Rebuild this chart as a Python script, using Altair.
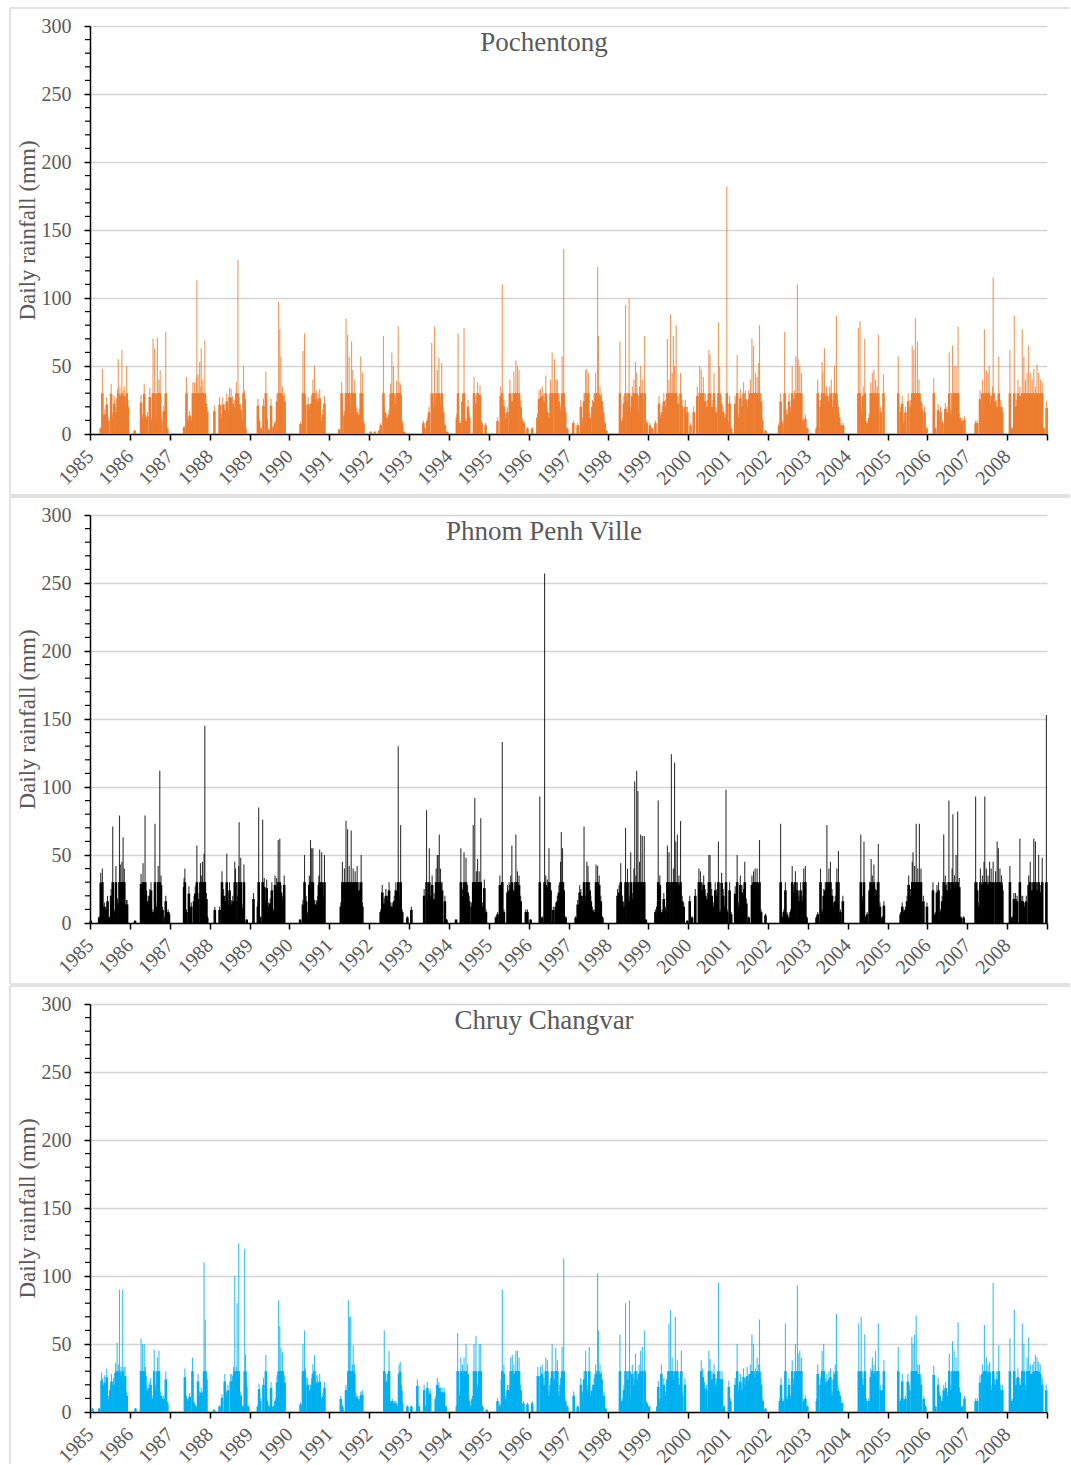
import altair as alt
import pandas as pd

FONT = "Liberation Serif"
GREY = "#595959"
W, H = 957, 408

# Daily rainfall peaks: {year: [[fraction of year, mm], ...]}
pochentong = {
    1985: [[.27,5],[.31,48],[.34,14],[.37,18],[.42,27],[.46,12],[.53,37],[.57,16],[.61,28],[.65,20],[.69,33],[.71,55],[.75,35],[.80,62],[.83,32],[.86,35],[.90,26],[.92,50],[.95,25]],
    1986: [[.12,3],[.28,29],[.31,14],[.36,37],[.39,14],[.44,16],[.50,34],[.54,12],[.58,70],[.62,63],[.65,14],[.69,71],[.73,40],[.76,47],[.79,12],[.85,21],[.88,8],[.90,75],[.94,5]],
    1987: [[.36,6],[.42,42],[.46,12],[.50,17],[.54,12],[.58,38],[.62,38],[.67,42],[.68,113],[.71,44],[.75,53],[.78,35],[.79,63],[.83,40],[.88,69],[.90,28],[.94,20]],
    1988: [[.12,21],[.25,27],[.29,15],[.33,27],[.38,22],[.43,30],[.46,20],[.50,34],[.54,33],[.58,28],[.63,25],[.67,38],[.71,128],[.74,27],[.78,22],[.81,12],[.85,50],[.88,32],[.90,5]],
    1989: [[.21,26],[.24,12],[.29,5],[.35,26],[.41,46],[.43,14],[.48,4],[.54,26],[.60,6],[.64,10],[.69,30],[.73,97],[.76,77],[.79,57],[.83,35],[.88,30]],
    1990: [[.28,9],[.34,61],[.38,74],[.40,27],[.47,27],[.51,22],[.55,28],[.59,40],[.63,50],[.68,32],[.72,30],[.76,33],[.80,12],[.84,18],[.88,28]],
    1991: [[.25,4],[.31,38],[.38,17],[.42,85],[.46,73],[.50,57],[.53,20],[.56,68],[.59,47],[.64,40],[.69,20],[.75,18],[.79,57],[.83,45],[.86,10]],
    1992: [[.04,2],[.14,2],[.25,3],[.29,8],[.36,72],[.39,20],[.43,15],[.46,12],[.50,18],[.54,37],[.57,60],[.61,50],[.64,28],[.69,39],[.73,79],[.77,38],[.79,36],[.83,10],[.88,2]],
    1993: [[.36,10],[.39,5],[.46,12],[.50,20],[.57,67],[.60,24],[.64,79],[.68,25],[.71,47],[.75,56],[.78,27],[.82,52],[.86,20],[.90,8],[.96,2]],
    1994: [[.20,15],[.23,74],[.28,10],[.34,30],[.38,78],[.43,12],[.48,25],[.51,15],[.63,42],[.68,28],[.72,38],[.74,30],[.78,36],[.82,10],[.92,8]],
    1995: [[.22,12],[.30,35],[.34,110],[.38,25],[.43,15],[.47,20],[.53,40],[.58,30],[.63,46],[.68,54],[.72,50],[.76,47],[.80,25],[.84,12],[.88,10],[.97,5]],
    1996: [[.09,5],[.22,15],[.26,32],[.30,33],[.34,35],[.38,30],[.43,43],[.47,20],[.51,15],[.55,40],[.59,60],[.65,55],[.69,40],[.72,40],[.76,30],[.80,20],[.84,57],[.88,136],[.92,20],[.97,5]],
    1997: [[.12,10],[.23,8],[.31,25],[.35,12],[.39,30],[.43,47],[.46,48],[.50,45],[.54,15],[.60,25],[.64,30],[.68,45],[.73,123],[.75,72],[.79,35],[.83,30],[.87,20],[.91,10],[.95,3]],
    1998: [[.29,68],[.35,12],[.39,28],[.43,95],[.48,30],[.52,100],[.56,20],[.60,35],[.64,40],[.68,53],[.71,45],[.74,20],[.78,35],[.81,50],[.85,40],[.91,72],[.96,10],[1.04,8]],
    1999: [[.10,5],[.18,10],[.27,28],[.31,14],[.35,20],[.39,30],[.43,25],[.48,70],[.52,40],[.56,88],[.60,45],[.63,72],[.66,50],[.70,80],[.75,28],[.81,45],[.85,25],[.93,25],[.98,20]],
    2000: [[.06,8],[.14,20],[.23,35],[.29,50],[.33,47],[.38,42],[.43,30],[.48,25],[.52,62],[.55,58],[.60,25],[.65,45],[.70,20],[.76,82],[.79,50],[.83,28],[.88,20],[.93,15],[.97,182],[.99,10]],
    2001: [[.04,28],[.08,5],[.18,28],[.23,58],[.27,15],[.31,33],[.35,25],[.39,38],[.44,32],[.48,25],[.52,32],[.56,40],[.60,70],[.64,65],[.69,45],[.73,42],[.77,52],[.79,80],[.83,30],[.86,12],[.94,3]],
    2002: [[.28,8],[.32,30],[.36,10],[.42,75],[.47,18],[.53,30],[.57,20],[.61,50],[.66,32],[.70,57],[.74,110],[.76,55],[.80,50],[.84,45],[.89,12],[.94,14],[.99,5]],
    2003: [[.22,5],[.25,40],[.32,25],[.36,53],[.38,45],[.42,63],[.47,35],[.50,30],[.55,35],[.59,40],[.64,25],[.67,50],[.72,87],[.75,25],[.79,15],[.84,8],[.89,8]],
    2004: [[.27,78],[.31,83],[.34,20],[.39,35],[.43,70],[.48,10],[.54,15],[.58,38],[.62,45],[.66,47],[.70,40],[.74,35],[.77,73],[.83,20],[.90,44]],
    2005: [[.27,57],[.33,20],[.37,28],[.41,10],[.45,20],[.52,30],[.58,25],[.62,65],[.66,62],[.70,85],[.75,68],[.79,40],[.83,30],[.87,22],[.93,20],[.98,5]],
    2006: [[.16,41],[.20,5],[.27,22],[.33,20],[.38,10],[.45,23],[.49,20],[.55,60],[.59,18],[.63,65],[.67,50],[.72,50],[.77,79],[.81,15],[.87,12],[.93,13]],
    2007: [[.21,10],[.25,10],[.32,32],[.38,40],[.43,77],[.48,47],[.52,45],[.55,50],[.59,28],[.63,35],[.65,115],[.69,30],[.74,25],[.79,57],[.84,25],[.88,20]],
    2008: [[.07,62],[.13,5],[.18,87],[.23,25],[.27,40],[.32,35],[.38,77],[.42,57],[.46,40],[.50,45],[.54,65],[.58,45],[.63,40],[.67,48],[.71,35],[.75,51],[.79,45],[.84,40],[.88,38],[.92,5],[.99,24]],
}

phnom_penh = {
    1985: [[.02,2],[.23,5],[.27,37],[.31,40],[.36,15],[.40,12],[.44,20],[.48,5],[.53,25],[.57,71],[.61,10],[.65,42],[.69,18],[.74,79],[.76,43],[.80,45],[.83,63],[.86,40],[.91,17],[.93,17]],
    1986: [[.13,2],[.28,36],[.33,44],[.38,79],[.40,30],[.46,20],[.50,25],[.53,30],[.58,10],[.63,73],[.65,15],[.71,42],[.75,112],[.78,35],[.82,12],[.88,5],[.90,20],[.96,10],[.98,8]],
    1987: [[.36,33],[.38,40],[.42,10],[.48,27],[.54,15],[.61,20],[.64,27],[.68,57],[.71,22],[.77,44],[.79,35],[.82,45],[.86,51],[.88,145],[.92,22],[.94,5]],
    1988: [[.13,12],[.25,12],[.31,38],[.35,25],[.39,20],[.43,51],[.46,17],[.50,30],[.54,17],[.58,20],[.63,45],[.65,40],[.70,20],[.73,42],[.74,74],[.78,48],[.81,14],[.86,43],[.93,3]],
    1989: [[.10,22],[.21,15],[.23,85],[.27,5],[.33,76],[.37,33],[.39,18],[.43,32],[.48,15],[.52,18],[.56,30],[.60,10],[.64,35],[.68,33],[.72,61],[.76,62],[.79,28],[.83,20],[.87,35]],
    1990: [[.27,3],[.34,17],[.38,50],[.42,20],[.46,8],[.50,35],[.53,61],[.56,55],[.59,55],[.63,17],[.67,17],[.71,20],[.74,35],[.76,54],[.79,10],[.81,52],[.85,20],[.88,50]],
    1991: [[.29,15],[.33,45],[.38,40],[.42,75],[.46,69],[.50,42],[.55,68],[.60,40],[.65,38],[.70,42],[.75,30],[.80,50],[.83,15]],
    1992: [[.29,10],[.33,28],[.38,18],[.42,25],[.46,20],[.50,30],[.54,15],[.58,15],[.63,20],[.67,30],[.71,22],[.73,130],[.77,20],[.79,72],[.83,10],[.96,5]],
    1993: [[.06,12],[.38,25],[.44,83],[.48,20],[.51,55],[.54,20],[.58,35],[.63,22],[.68,40],[.71,50],[.73,50],[.76,65],[.79,40],[.83,30],[.90,20],[.94,3]],
    1994: [[.18,3],[.30,55],[.34,25],[.38,52],[.43,48],[.47,28],[.51,20],[.57,15],[.61,72],[.65,92],[.69,38],[.72,47],[.76,38],[.80,77],[.84,15],[.89,32],[.93,10]],
    1995: [[.18,5],[.22,8],[.28,35],[.34,133],[.38,10],[.47,28],[.51,30],[.55,35],[.58,57],[.64,30],[.68,65],[.72,38],[.76,35],[.80,20],[.93,10],[.97,10]],
    1996: [[.05,3],[.28,93],[.34,5],[.40,257],[.43,35],[.47,32],[.51,55],[.55,30],[.62,12],[.68,15],[.72,20],[.76,28],[.80,45],[.82,67],[.85,55],[.88,30],[.93,5]],
    1997: [[.18,5],[.23,17],[.28,28],[.31,25],[.35,20],[.39,71],[.43,20],[.46,45],[.49,42],[.53,30],[.56,20],[.60,12],[.64,10],[.69,43],[.73,42],[.77,35],[.81,20],[.85,5]],
    1998: [[.23,25],[.27,28],[.31,44],[.35,20],[.39,15],[.43,70],[.48,40],[.52,20],[.56,52],[.60,22],[.64,40],[.66,104],[.69,35],[.71,112],[.74,97],[.78,45],[.81,65],[.85,64],[.90,64],[.94,3]],
    1999: [[.18,10],[.23,15],[.25,90],[.29,35],[.35,10],[.39,22],[.43,12],[.48,57],[.52,52],[.54,10],[.58,124],[.63,40],[.66,118],[.69,60],[.73,65],[.77,35],[.81,75],[.85,20],[.89,15],[.98,2]],
    2000: [[.04,20],[.10,5],[.18,25],[.27,40],[.31,38],[.35,30],[.39,35],[.43,25],[.48,22],[.52,50],[.55,50],[.59,25],[.63,15],[.68,30],[.72,25],[.76,60],[.80,10],[.84,37],[.88,25],[.93,15],[.95,98],[.98,10]],
    2001: [[.04,30],[.08,8],[.18,27],[.23,50],[.27,15],[.31,35],[.35,28],[.39,25],[.42,45],[.46,18],[.52,5],[.60,35],[.64,38],[.68,40],[.73,40],[.77,28],[.79,61],[.83,10],[.94,7]],
    2002: [[.32,73],[.36,5],[.40,10],[.44,30],[.48,8],[.53,5],[.57,10],[.61,42],[.65,28],[.69,38],[.74,30],[.78,20],[.82,30],[.86,20],[.90,40],[.94,42],[.97,5]],
    2003: [[.22,5],[.25,8],[.32,40],[.36,10],[.40,25],[.44,30],[.48,72],[.53,40],[.57,45],[.61,25],[.65,15],[.69,20],[.73,40],[.77,53],[.82,10],[.88,20]],
    2004: [[.33,65],[.37,20],[.41,60],[.45,5],[.49,8],[.55,30],[.59,47],[.62,35],[.66,43],[.70,25],[.74,30],[.77,58],[.81,15],[.87,5],[.91,16]],
    2005: [[.33,8],[.37,15],[.41,10],[.45,12],[.49,20],[.53,35],[.58,25],[.62,45],[.64,52],[.68,42],[.72,73],[.76,40],[.80,73],[.84,40],[.90,20],[.99,15]],
    2006: [[.14,30],[.20,8],[.24,28],[.28,30],[.33,10],[.37,20],[.41,65],[.45,35],[.49,30],[.54,90],[.58,30],[.62,40],[.64,80],[.68,35],[.72,50],[.76,82],[.80,33],[.84,5],[.91,5]],
    2007: [[.21,93],[.25,30],[.29,15],[.33,40],[.38,35],[.42,45],[.44,93],[.48,40],[.52,35],[.56,45],[.60,40],[.65,45],[.71,38],[.75,60],[.78,55],[.82,40],[.86,35],[.88,30]],
    2008: [[.07,42],[.13,5],[.17,22],[.21,22],[.25,20],[.32,62],[.35,20],[.39,20],[.43,15],[.48,20],[.54,35],[.58,45],[.63,30],[.67,62],[.71,60],[.75,30],[.79,50],[.83,28],[.88,48],[.985,153]],
}

chruy_changvar = {
    1985: [[.06,3],[.23,3],[.29,29],[.32,25],[.37,27],[.42,32],[.46,12],[.51,20],[.54,28],[.59,25],[.64,36],[.68,51],[.71,35],[.74,90],[.78,33],[.82,90],[.85,33],[.88,33],[.92,15]],
    1986: [[.14,3],[.28,54],[.32,50],[.36,50],[.39,33],[.43,20],[.48,22],[.52,25],[.56,12],[.61,46],[.64,20],[.69,40],[.73,45],[.77,15],[.81,12],[.85,12],[.90,30],[.94,8]],
    1987: [[.38,32],[.42,12],[.46,10],[.50,14],[.57,40],[.61,8],[.65,5],[.71,28],[.75,15],[.79,18],[.83,15],[.86,110],[.89,68],[.92,30]],
    1988: [[.11,2],[.25,5],[.31,13],[.38,28],[.42,15],[.46,20],[.53,28],[.56,28],[.60,33],[.63,100],[.67,33],[.69,80],[.73,124],[.78,15],[.83,5],[.88,120],[.90,42],[.92,23],[.97,5]],
    1989: [[.21,5],[.24,21],[.27,10],[.35,25],[.41,42],[.44,10],[.48,5],[.54,22],[.60,5],[.65,10],[.69,27],[.73,82],[.76,63],[.79,47],[.83,44],[.88,27]],
    1990: [[.28,7],[.34,50],[.38,60],[.40,32],[.46,25],[.52,20],[.56,25],[.59,35],[.63,42],[.67,27],[.71,27],[.76,28],[.79,12],[.84,14],[.88,22]],
    1991: [[.29,12],[.33,5],[.42,20],[.48,82],[.51,70],[.54,70],[.58,35],[.60,49],[.63,35],[.67,14],[.71,12],[.75,10],[.79,15],[.83,16]],
    1992: [[.38,60],[.42,28],[.46,28],[.50,45],[.54,8],[.58,10],[.63,8],[.67,8],[.71,5],[.75,35],[.78,37],[.81,20],[.83,8],[.96,5]],
    1993: [[.06,5],[.21,24],[.25,5],[.38,20],[.42,5],[.46,22],[.50,15],[.53,17],[.67,12],[.71,25],[.75,22],[.79,18],[.83,18],[.88,18],[.92,5]],
    1994: [[.20,5],[.22,58],[.28,15],[.30,40],[.34,35],[.38,40],[.43,50],[.47,35],[.51,10],[.56,5],[.59,12],[.63,50],[.68,56],[.72,20],[.76,50],[.80,50],[.84,5],[.95,2]],
    1995: [[.22,10],[.28,6],[.33,30],[.34,90],[.38,35],[.43,12],[.47,20],[.51,20],[.55,40],[.59,42],[.63,35],[.68,45],[.72,45],[.76,40],[.80,20],[.87,8],[.97,7]],
    1996: [[.09,8],[.23,33],[.30,33],[.34,35],[.38,25],[.43,40],[.47,38],[.51,15],[.55,25],[.59,50],[.63,30],[.68,47],[.72,38],[.76,15],[.80,25],[.84,48],[.88,113],[.92,10],[.97,5]],
    1997: [[.13,15],[.23,5],[.31,25],[.35,15],[.39,30],[.43,45],[.48,20],[.52,48],[.56,15],[.60,20],[.64,25],[.68,35],[.73,102],[.75,60],[.79,35],[.83,30],[.89,15],[.93,3]],
    1998: [[.29,57],[.35,10],[.39,20],[.43,80],[.48,30],[.53,82],[.56,12],[.60,35],[.64,25],[.68,43],[.72,30],[.77,35],[.81,45],[.85,48],[.91,60],[.96,8],[1.02,5]],
    1999: [[.23,5],[.25,23],[.29,10],[.33,35],[.35,10],[.39,25],[.43,15],[.48,30],[.52,65],[.56,75],[.60,40],[.64,30],[.68,70],[.73,38],[.77,25],[.83,45],[.85,15],[.92,25]],
    2000: [[.33,38],[.37,32],[.41,22],[.46,20],[.52,45],[.55,39],[.60,30],[.65,35],[.70,25],[.74,30],[.76,95],[.80,30],[.85,30],[.90,5]],
    2001: [[.02,23],[.06,10],[.18,25],[.23,50],[.27,20],[.31,28],[.35,20],[.39,32],[.44,25],[.48,33],[.52,28],[.56,35],[.60,57],[.64,50],[.69,32],[.73,40],[.77,35],[.79,68],[.83,25],[.87,10],[.94,3]],
    2002: [[.30,10],[.33,25],[.38,10],[.44,65],[.48,12],[.53,25],[.57,12],[.61,38],[.65,25],[.69,50],[.74,93],[.76,43],[.80,45],[.84,40],[.90,10],[.94,12],[.99,5]],
    2003: [[.23,10],[.25,35],[.32,25],[.36,45],[.40,50],[.44,25],[.48,28],[.53,30],[.57,32],[.61,15],[.65,30],[.69,35],[.72,72],[.76,20],[.80,15],[.86,8]],
    2004: [[.28,65],[.34,70],[.38,25],[.43,57],[.47,10],[.53,10],[.58,32],[.62,40],[.66,35],[.70,45],[.74,30],[.77,65],[.83,20],[.89,20],[.91,38]],
    2005: [[.27,48],[.33,10],[.37,28],[.41,10],[.45,12],[.51,28],[.55,20],[.61,55],[.64,50],[.68,57],[.72,71],[.76,35],[.80,35],[.84,25],[.91,12],[.95,5]],
    2006: [[.16,34],[.20,5],[.27,25],[.31,15],[.37,10],[.41,20],[.46,22],[.51,15],[.55,43],[.59,20],[.63,52],[.67,45],[.72,40],[.77,66],[.81,18],[.87,5],[.93,12]],
    2007: [[.21,10],[.25,10],[.32,27],[.38,35],[.43,64],[.48,40],[.52,35],[.56,37],[.59,20],[.62,20],[.65,95],[.69,25],[.74,30],[.79,49],[.84,20],[.88,20]],
    2008: [[.07,54],[.13,10],[.18,75],[.23,25],[.27,32],[.32,25],[.38,65],[.42,50],[.46,20],[.50,40],[.54,55],[.58,35],[.63,35],[.67,37],[.71,42],[.75,40],[.79,37],[.83,35],[.88,25],[.98,20]],
}

station_names = ["Pochentong", "Phnom Penh Ville", "Chruy Changvar"]
station_colors = ["#ED7D31", "#000000", "#00B0F0"]
year_ticks = list(range(1985, 2010))
major_y = [0, 50, 100, 150, 200, 250, 300]
minor_y = [v for v in range(0, 301, 10) if v % 50 != 0]


def to_df(d):
    rows = []
    for y, pts in d.items():
        for f, v in pts:
            rows.append({"t": y + f, "mm": v})
    return pd.DataFrame(rows)


xscale = alt.Scale(domain=[1985, 2009], nice=False, zero=False)
yscale = alt.Scale(domain=[0, 300], nice=False, zero=True)

xaxis = alt.Axis(
    values=year_ticks, format="d",
    labelExpr="datum.value < 2009 ? datum.label : ''",
    labelAngle=-45, labelAlign="right", labelBaseline="middle",
    labelFont=FONT, labelFontSize=20, labelColor=GREY, labelPadding=13,
    labelOverlap=False, labelFlush=False, labelBound=False,
    tickColor="black", tickSize=6, tickWidth=1.5,
    domainColor="black", domainWidth=1.5, grid=False, title=None,
)
yaxis = alt.Axis(
    values=major_y, grid=True, gridColor="#d4d4d4", gridWidth=1.4,
    domainColor="black", domainWidth=1.5,
    tickColor="black", tickSize=6, tickWidth=1.5,
    labelFont=FONT, labelFontSize=20, labelColor=GREY, labelPadding=13,
    labelFlush=False,
    title="Daily rainfall (mm)", titleFont=FONT, titleFontSize=23,
    titleColor=GREY, titleFontWeight="normal", titlePadding=2,
)

frame_df = pd.DataFrame({"a": [0]})
minor_df = pd.DataFrame({"v": minor_y})


def panel(name, color, d, left_end, with_bottom):
    df = to_df(d)
    layers = []
    top = alt.Chart(frame_df).mark_rule(color="#d9d9d9", strokeWidth=1.5).encode(
        x=alt.value(-80), x2=alt.value(980), y=alt.value(-18))
    left = alt.Chart(frame_df).mark_rule(color="#d9d9d9", strokeWidth=1.5).encode(
        x=alt.value(-80), y=alt.value(-18), y2=alt.value(left_end))
    layers += [top, left]
    if with_bottom:
        bottom = alt.Chart(frame_df).mark_rule(color="#d9d9d9", strokeWidth=1.5).encode(
            x=alt.value(-80), x2=alt.value(980), y=alt.value(left_end))
        layers.append(bottom)
    # solid body of the wet-season bars (overlapping daily bars in the original)
    body = alt.Chart(df).transform_calculate(
        base="min(datum.mm * 0.8, 30)"
    ).mark_rule(color=color, strokeWidth=2.6).encode(
        x=alt.X("t:Q", scale=xscale, axis=xaxis),
        y=alt.Y("base:Q", scale=yscale, axis=yaxis),
        y2=alt.datum(0),
    )
    spikes = alt.Chart(df).mark_rule(color=color, strokeWidth=1.1, opacity=0.8).encode(
        x=alt.X("t:Q", scale=xscale, axis=xaxis),
        y=alt.Y("mm:Q", scale=yscale, axis=yaxis),
        y2=alt.datum(0),
    )
    minor = alt.Chart(minor_df).mark_rule(color="black", strokeWidth=1.2).encode(
        y=alt.Y("v:Q", scale=yscale, axis=yaxis), x=alt.value(-5), x2=alt.value(0))
    title = alt.Chart(frame_df).mark_text(
        font=FONT, fontSize=27, color=GREY, align="center", baseline="alphabetic"
    ).encode(x=alt.value(454), y=alt.value(25), text=alt.value(name))
    layers += [body, spikes, minor, title]
    return alt.layer(*layers).properties(width=W, height=H)


p1 = panel(station_names[0], station_colors[0], pochentong, 469, True)
p2 = panel(station_names[1], station_colors[1], phnom_penh, 469, True)
p3 = panel(station_names[2], station_colors[2], chruy_changvar, 460, False)

chart = alt.vconcat(p1, p2, p3, spacing=0).properties(
    padding={"left": 9, "top": 7, "right": 0, "bottom": 0},
    background="white",
).configure_view(strokeWidth=0)

chart.save("out.html", embed_options={"renderer": "svg", "actions": False})
